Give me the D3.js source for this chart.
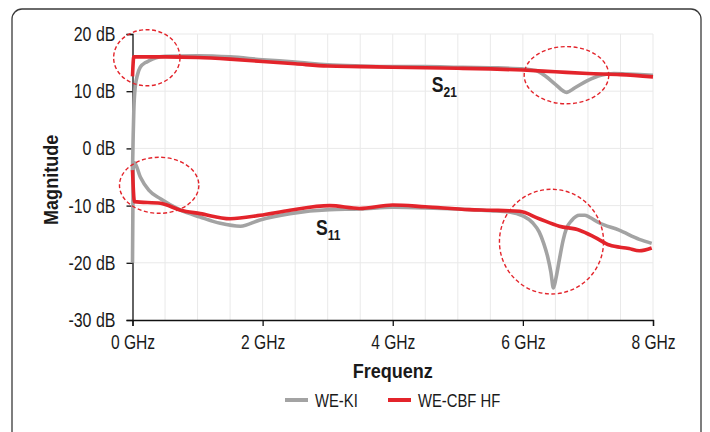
<!DOCTYPE html>
<html>
<head>
<meta charset="utf-8">
<script src="https://cdn.jsdelivr.net/npm/d3@7"></script>
<style>
  body { margin: 0; background: #fff; }
  svg text { font-family: "Liberation Sans", Arial, sans-serif; fill: #1a1a1a; transform-box: fill-box; }
  .narrow-end { transform-origin: 100% 50%; transform: scaleX(0.82); }
  .narrow-mid { transform-origin: 50% 50%; transform: scaleX(0.8); }
  .narrow-start { transform-origin: 0% 50%; transform: scaleX(0.8); }
  .title { transform-origin: 50% 50%; transform: scaleX(0.86); }
</style>
</head>
<body>
<div class="chart"></div>
<script>
// S21 (WE-KI, grau)
const fS21Ki = [0, 0.01, 0.02, 0.04, 0.08, 0.12, 0.2, 0.25, 0.35, 0.5, 1.0, 1.5, 2.0, 2.5, 3.0, 3.5, 4.0, 4.5, 5.0, 5.5, 6.0, 6.2, 6.35, 6.5, 6.67, 6.8, 7.0, 7.2, 7.4, 7.6, 8.0];
const s21Ki  = [-4, 2, 6.5, 10.5, 13.0, 14.2, 15.0, 15.3, 15.8, 16.1, 16.2, 16.0, 15.5, 15.1, 14.6, 14.4, 14.3, 14.3, 14.2, 14.1, 13.9, 13.6, 12.6, 11.2, 9.8, 10.6, 11.9, 12.8, 13.1, 13.0, 12.8];
// S21 (WE-CBF HF, rot)
const fS21Cbf = [0, 0.02, 0.5, 1.0, 1.5, 2.0, 2.5, 3.0, 3.5, 4.0, 4.5, 5.0, 5.5, 6.0, 6.5, 7.0, 7.5, 8.0];
const s21Cbf  = [12.6, 16.0, 16.0, 15.9, 15.6, 15.2, 14.8, 14.4, 14.3, 14.2, 14.1, 14.0, 13.9, 13.7, 13.4, 13.1, 12.9, 12.5];
// S11 (WE-KI, grau)
const fS11Ki = [0, 0.01, 0.03, 0.12, 0.25, 0.43, 0.74, 1.04, 1.35, 1.66, 1.96, 2.42, 3.03, 3.5, 4.0, 4.5, 5.0, 5.5, 5.79, 6.0, 6.15, 6.25, 6.32, 6.38, 6.43, 6.47, 6.51, 6.56, 6.62, 6.67, 6.75, 6.87, 6.95, 7.02, 7.17, 7.48, 7.79, 7.98];
const s11Ki  = [-20, -4, -2.5, -5.0, -7.3, -8.8, -10.8, -12.0, -13.1, -13.6, -12.5, -11.4, -10.7, -10.6, -10.3, -10.4, -10.6, -10.9, -11.1, -11.8, -13.0, -14.6, -16.6, -18.9, -21.6, -24.4, -22.6, -19.5, -16.0, -14.0, -12.6, -11.7, -11.7, -12.0, -13.0, -14.3, -15.9, -16.6];
// S11 (WE-CBF HF, rot)
const fS11Cbf = [0, 0.03, 0.43, 0.74, 1.04, 1.5, 1.96, 2.42, 3.03, 3.49, 4.0, 4.5, 5.18, 5.5, 5.95, 6.25, 6.56, 6.87, 7.1, 7.33, 7.63, 7.79, 7.98];
const s11Cbf  = [-3.8, -9.3, -9.6, -10.8, -11.4, -12.3, -11.7, -10.8, -10.0, -10.5, -9.9, -10.2, -10.7, -10.8, -11.0, -12.3, -13.6, -14.3, -15.5, -16.9, -17.5, -17.9, -17.4];

const xTicks = [0, 2, 4, 6, 8];
const yTicks = [20, 10, 0, -10, -20, -30];
const legendNames = ["WE-KI", "WE-CBF HF"];

// Markierungen (Ellipsen) in Datenkoordinaten: [GHz, dB, rx GHz, ry dB]
const marks = [[0.22, 15.85, 0.51, 4.9], [0.41, -6.45, 0.61, 4.9], [6.67, 12.8, 0.65, 5.0], [6.44, -16.3, 0.8, 9.15]];

const W = 710, H = 432;
const margin = { top: 34, right: 57, bottom: 112, left: 132.5 };
const width = W - margin.left - margin.right;
const height = H - margin.top - margin.bottom;

const svg = d3.select(".chart").append("svg")
    .attr("width", W).attr("height", H);

// Rahmen
svg.append("rect")
    .attr("x", 12).attr("y", 9).attr("width", 689).attr("height", 440)
    .attr("rx", 10)
    .attr("fill", "none").attr("stroke", "#3a3a3a").attr("stroke-width", 1.3);

const g = svg.append("g").attr("transform", `translate(${margin.left},${margin.top})`);

const x = d3.scaleLinear().domain([0, 8]).range([0, width]);
const y = d3.scaleLinear().domain([-30, 20]).range([height, 0]);

// Gitter
g.append("g").selectAll("line")
    .data(d3.range(0.5, 8.01, 0.5))
    .join("line")
    .attr("x1", d => x(d)).attr("x2", d => x(d))
    .attr("y1", 0).attr("y2", height)
    .attr("stroke", "#e9e9e9").attr("stroke-width", 1);
g.append("g").selectAll("line")
    .data(yTicks.filter(d => d > -30))
    .join("line")
    .attr("x1", 0).attr("x2", width)
    .attr("y1", d => y(d)).attr("y2", d => y(d))
    .attr("stroke", "#e9e9e9").attr("stroke-width", 1);

// Achsen
const xAxis = g.append("g")
    .attr("transform", `translate(0,${height})`)
    .call(d3.axisBottom(x).tickValues(xTicks).tickSize(6).tickPadding(9).tickFormat(d => d + " GHz"));
const yAxis = g.append("g")
    .call(d3.axisLeft(y).tickValues(yTicks).tickSize(6).tickPadding(11).tickFormat(d => d + " dB"));
[xAxis, yAxis].forEach(a => {
    a.select(".domain").attr("stroke", "#111").attr("stroke-width", 1.3);
    a.selectAll(".tick line").attr("stroke", "#111").attr("stroke-width", 1.3);
    a.selectAll(".tick text").style("font-size", "19.5px").attr("fill", "#1a1a1a");
});
xAxis.selectAll(".tick text").attr("class", "narrow-mid");
yAxis.selectAll(".tick text").attr("class", "narrow-end").attr("dy", "0.33em");

const line = d3.line().x(d => x(d[0])).y(d => y(d[1])).curve(d3.curveMonotoneX);
const series = [
    { f: fS11Ki, v: s11Ki, color: "#a3a3a3" },
    { f: fS21Ki, v: s21Ki, color: "#a3a3a3" },
    { f: fS11Cbf, v: s11Cbf, color: "#e3242b" },
    { f: fS21Cbf, v: s21Cbf, color: "#e3242b" }
];
series.forEach(s => {
    g.append("path")
        .datum(d3.zip(s.f, s.v))
        .attr("fill", "none")
        .attr("stroke", s.color)
        .attr("stroke-width", 3.6)
        .attr("stroke-linejoin", "round")
        .attr("d", line);
});

// Ellipsen
g.selectAll(".mark")
    .data(marks)
    .join("ellipse")
    .attr("class", "mark")
    .attr("cx", d => x(d[0])).attr("cy", d => y(d[1]))
    .attr("rx", d => x(d[2]) - x(0)).attr("ry", d => y(0) - y(d[3]))
    .attr("fill", "none").attr("stroke", "#e3242b")
    .attr("stroke-width", 1.4).attr("stroke-dasharray", "4,2.5");

// S-Parameter Beschriftungen
function sLabel(f, db, sub) {
    const t = g.append("text")
        .attr("class", "narrow-start")
        .attr("x", x(f)).attr("y", y(db))
        .style("font-size", "22px").style("font-weight", "bold");
    t.append("tspan").text("S");
    t.append("tspan").attr("dy", 5).style("font-size", "15px").text(sub);
}
sLabel(4.6, 9.8, "21");
sLabel(2.82, -15.2, "11");

// Achsentitel
svg.append("g")
    .attr("transform", `translate(58,${margin.top + y(-5.5)}) rotate(-90)`)
    .append("text")
    .attr("class", "title")
    .attr("text-anchor", "middle")
    .style("font-size", "21px").style("font-weight", "bold")
    .text("Magnitude");
svg.append("text")
    .attr("class", "title")
    .attr("x", margin.left + x(4)).attr("y", 378)
    .attr("text-anchor", "middle")
    .style("font-size", "21px").style("font-weight", "bold")
    .text("Frequenz");

// Legende
const legend = svg.append("g").attr("transform", "translate(285,400)");
const legItems = legend.selectAll("g")
    .data(legendNames)
    .join("g")
    .attr("transform", (d, i) => `translate(${i * 103},0)`);
legItems.append("line")
    .attr("x1", 0).attr("x2", 23).attr("y1", 0).attr("y2", 0)
    .attr("stroke", (d, i) => i === 0 ? "#a3a3a3" : "#e3242b")
    .attr("stroke-width", 4);
legItems.append("text")
    .attr("class", "narrow-start")
    .attr("x", 30).attr("y", 6.5)
    .style("font-size", "18.5px")
    .text(d => d);
</script>
</body>
</html>
